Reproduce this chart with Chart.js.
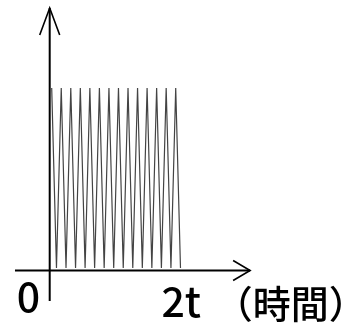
<!DOCTYPE html>
<html>
<head>
<meta charset="utf-8">
<script src="https://cdn.jsdelivr.net/npm/chart.js@4"></script>
<style>
  html, body { margin: 0; padding: 0; background: #fff; }
  #wrap { width: 353px; height: 327px; }
</style>
</head>
<body>
<div id="wrap"><canvas id="chart" width="353" height="327"></canvas></div>
<script>
// half-cycle index of each turning point of the wave
const halfCycles = [0, 1, 2, 3, 4, 5, 6, 7, 8, 9, 10, 11, 12, 13,
                    14, 15, 16, 17, 18, 19, 20, 21, 22, 23, 24, 25, 26, 27];
// 1 = top, 0 = bottom
const levels = [1, 0, 1, 0, 1, 0, 1, 0, 1, 0, 1, 0, 1, 0,
                1, 0, 1, 0, 1, 0, 1, 0, 1, 0, 1, 0, 1, 0];
const originLabel = "0";
const endLabel = "2t";
const unitLabel = "（時間）";

const points = halfCycles.map((x, i) => ({ x: x, y: levels[i] }));

// where the axes sit, in data units
const yAxisX = -0.42;
const xAxisY = -0.014;
const xAxisFrom = -7.7, xAxisTo = 41.6;
const yAxisFrom = -0.183, yAxisTo = 1.444;

const axesPlugin = {
  id: "axes",
  afterDraw(chart) {
    const ctx = chart.ctx;
    const xs = chart.scales.x, ys = chart.scales.y;
    const ax = xs.getPixelForValue(yAxisX);
    const ay = ys.getPixelForValue(xAxisY);
    ctx.save();
    ctx.strokeStyle = "#000";
    ctx.lineWidth = 2;
    ctx.lineCap = "butt";

    // x axis + arrow
    const x0 = xs.getPixelForValue(xAxisFrom), x1 = xs.getPixelForValue(xAxisTo);
    ctx.beginPath();
    ctx.moveTo(x0, ay); ctx.lineTo(x1, ay);
    ctx.stroke();
    ctx.lineWidth = 1.6;
    ctx.beginPath();
    ctx.moveTo(x1 - 17, ay - 10); ctx.lineTo(x1, ay); ctx.lineTo(x1 - 17, ay + 10);
    ctx.stroke();

    // y axis + arrow
    ctx.lineWidth = 2;
    const y0 = ys.getPixelForValue(yAxisFrom), y1 = ys.getPixelForValue(yAxisTo);
    ctx.beginPath();
    ctx.moveTo(ax, y0); ctx.lineTo(ax, y1);
    ctx.stroke();
    ctx.lineWidth = 1.6;
    ctx.beginPath();
    ctx.moveTo(ax - 10, y1 + 27); ctx.lineTo(ax, y1); ctx.lineTo(ax + 10, y1 + 27);
    ctx.stroke();

    // labels
    ctx.fillStyle = "#000";
    ctx.textBaseline = "alphabetic";
    ctx.textAlign = "left";
    ctx.font = '500 41px "Noto Sans CJK JP"';
    ctx.fillText(originLabel, ax - 33, ay + 41);
    ctx.fillText(endLabel, xs.getPixelForValue(23.0), ay + 46);
    ctx.font = '500 38px "Noto Sans CJK JP"';
    ctx.fillText(unitLabel, xs.getPixelForValue(34.2), ay + 47);
    ctx.restore();
  }
};

new Chart(document.getElementById("chart"), {
  type: "line",
  data: {
    datasets: [{
      data: points,
      borderColor: "#444",
      borderWidth: 1.2,
      pointRadius: 0,
      tension: 0,
      fill: false
    }]
  },
  options: {
    responsive: false,
    animation: false,
    devicePixelRatio: 1,
    layout: { padding: 0 },
    plugins: { legend: { display: false }, tooltip: { enabled: false } },
    scales: {
      x: { type: "linear", display: false, min: -10.84, max: 63.17 },
      y: { type: "linear", display: false, min: -0.3278, max: 1.4889 }
    }
  },
  plugins: [axesPlugin]
});
</script>
</body>
</html>
